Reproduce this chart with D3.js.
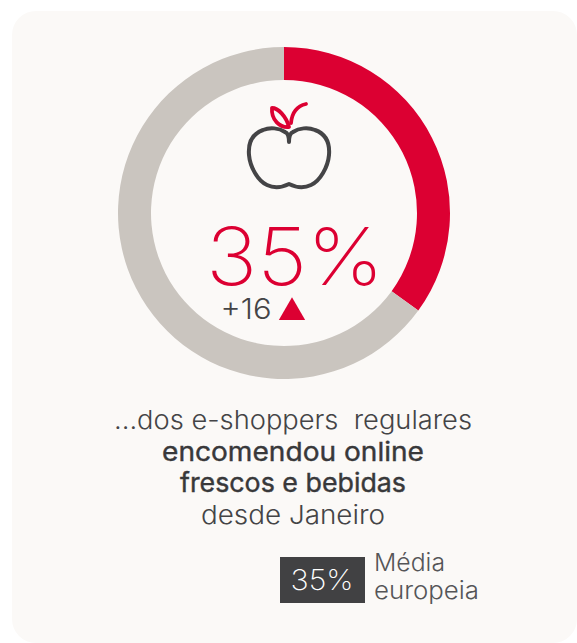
<!DOCTYPE html>
<html>
<head>
<meta charset="utf-8">
<script src="https://d3js.org/d3.v7.min.js"></script>
<style>
  html, body { margin: 0; padding: 0; background: #ffffff; }
  svg { display: block; }
  text { font-family: Inter, "Noto Sans", sans-serif; white-space: pre; }
</style>
</head>
<body>
<script>
// chart values
var sliceNames = ["encomendou", "resto"];
var sliceValues = [35, 65];
var sliceColors = ["#dc0032", "#cac5bf"];
var mainLabel = "35%";
var deltaLabel = "+16";
var captionLines = ["...dos e-shoppers  regulares", "encomendou online", "frescos e bebidas", "desde Janeiro"];
var captionBold = [false, true, true, false];
var averageLabel = "35%";
var averageText = ["Média", "europeia"];

var width = 577, height = 643;
var cx = 284, cy = 213;

var svg = d3.select("body").append("svg")
    .attr("width", width)
    .attr("height", height);

// card background, runs off the right and bottom edge a bit
svg.append("rect")
    .attr("x", 12).attr("y", 11)
    .attr("width", 565).attr("height", 632)
    .attr("rx", 24)
    .attr("fill", "#fbf9f7");

// donut
var pie = d3.pie().sort(null);
var arc = d3.arc().innerRadius(133).outerRadius(166);

svg.append("g")
    .attr("transform", "translate(" + cx + "," + cy + ")")
    .selectAll("path")
    .data(pie(sliceValues))
    .enter().append("path")
    .attr("d", arc)
    .attr("fill", function(d, i) { return sliceColors[i]; });

// apple icon
var apple = svg.append("g").attr("fill", "none").attr("stroke-linecap", "round").attr("stroke-linejoin", "round");
apple.append("path")
    .attr("stroke", "#444446").attr("stroke-width", 4)
    .attr("d", "M289,142 C289,136 288,133 285,132 C279,128 270,127 263,130 C252,134 248,143 249,155 C250,167 258,181 267,185 C275,189 283,187 289,184 C295,187 303,189 311,185 C320,181 328,167 329,155 C330,143 326,134 315,130 C308,127 299,128 293,132 C290,133 289,136 289,142");
apple.append("path")
    .attr("stroke", "#dc0032").attr("stroke-width", 3.8)
    .attr("d", "M272,108 C278,108 286,116 289,127 C280,128 271,120 272,108 Z");
apple.append("path")
    .attr("stroke", "#dc0032").attr("stroke-width", 3.8)
    .attr("d", "M291,123 C292,113 297,106 306,104");

// big number
svg.append("text")
    .attr("x", 295).attr("y", 285)
    .attr("text-anchor", "middle")
    .attr("font-size", 80).attr("font-weight", 200)
    .attr("fill", "#dc0032")
    .attr("textLength", 178).attr("lengthAdjust", "spacingAndGlyphs")
    .text(mainLabel);

// delta and triangle
svg.append("text")
    .attr("x", 246).attr("y", 319)
    .attr("text-anchor", "middle")
    .attr("font-size", 28).attr("font-weight", 300)
    .attr("fill", "#444446")
    .attr("textLength", 51).attr("lengthAdjust", "spacingAndGlyphs")
    .text(deltaLabel);

svg.append("path")
    .attr("d", d3.symbol().type(d3.symbolTriangle).size(300))
    .attr("transform", "translate(292,312.5)")
    .attr("fill", "#dc0032");

// caption
var captionY = [429, 461, 492, 524];
var captionW = [358, 262, 226, 184];
svg.append("g").selectAll("text")
    .data(captionLines)
    .enter().append("text")
    .attr("x", 293)
    .attr("y", function(d, i) { return captionY[i]; })
    .attr("text-anchor", "middle")
    .attr("font-size", 26)
    .attr("font-weight", function(d, i) { return captionBold[i] ? 400 : 300; })
    .attr("fill", function(d, i) { return captionBold[i] ? "#38383a" : "#444446"; })
    .attr("stroke", function(d, i) { return captionBold[i] ? "#38383a" : "none"; })
    .attr("stroke-width", 0.4)
    .attr("textLength", function(d, i) { return captionW[i]; })
    .attr("lengthAdjust", "spacingAndGlyphs")
    .text(function(d) { return d; });

// european average
svg.append("rect")
    .attr("x", 280).attr("y", 557)
    .attr("width", 85).attr("height", 46)
    .attr("fill", "#414143");

svg.append("text")
    .attr("x", 322).attr("y", 590)
    .attr("text-anchor", "middle")
    .attr("font-size", 28).attr("font-weight", 200)
    .attr("fill", "#ffffff")
    .attr("textLength", 63).attr("lengthAdjust", "spacingAndGlyphs")
    .text(averageLabel);

var avgW = [71, 105];
svg.append("g").selectAll("text")
    .data(averageText)
    .enter().append("text")
    .attr("x", 374)
    .attr("y", function(d, i) { return 571 + i * 28; })
    .attr("font-size", 24).attr("font-weight", 300)
    .attr("fill", "#555557")
    .attr("textLength", function(d, i) { return avgW[i]; })
    .attr("lengthAdjust", "spacingAndGlyphs")
    .text(function(d) { return d; });
</script>
</body>
</html>
